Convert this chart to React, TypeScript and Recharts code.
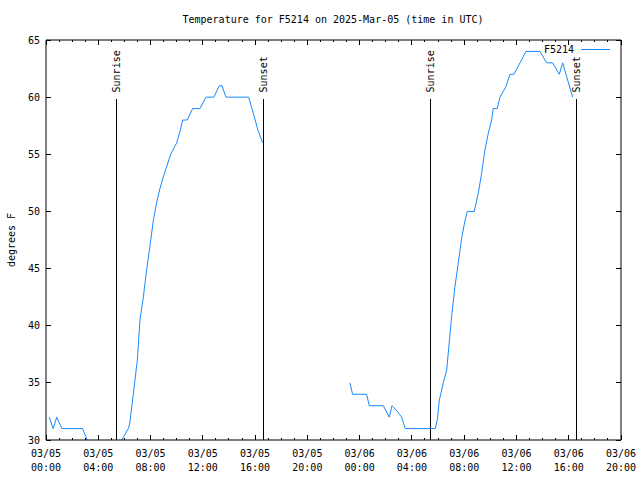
import React from 'react';
import { LineChart, Line, XAxis, YAxis, ReferenceLine, Customized } from 'recharts';

// hours since 03/05 00:00 UTC, and temperature in degrees F (null = no data)
const hours = [
  0.25, 0.55, 0.82, 1.22, 2.8, 3.15, 3.5, 5.5, 5.8, 6.3, 6.4, 6.68, 6.99, 7.19, 7.45, 7.7,
  7.96, 8.21, 8.47, 8.72, 8.97, 9.23, 9.54, 10.0, 10.25, 10.46, 10.81, 11.22, 11.78, 12.24,
  12.85, 13.26, 13.47, 13.77, 15.51, 15.86, 16.22, 16.58,
  20.0,
  23.26, 23.46, 24.53, 24.74, 25.81, 26.27, 26.47, 26.83, 27.21, 27.49, 29.79, 29.94, 30.1,
  30.4, 30.66, 31.04, 31.29, 31.55, 31.8, 32.06, 32.24, 32.77, 33.08, 33.33, 33.59, 33.84,
  34.1, 34.22, 34.53, 34.74, 35.19, 35.5, 35.8, 36.27, 36.73, 37.8, 38.31, 38.77, 39.28,
  39.54, 39.84, 40.3,
];
const tempF: (number | null)[] = [
  32, 31, 32, 31, 31, 30, 29.5, 29.5, 30, 31, 31.4, 34, 37, 40.5, 42.5, 44.9,
  47, 49.2, 50.8, 52, 53, 53.9, 55, 56, 57, 58, 58, 59, 59, 60,
  60, 61, 61, 60, 60, 58.6, 57.1, 56,
  null,
  35, 34, 34, 33, 33, 32, 33, 32.6, 32, 31, 31, 31.75, 33.5,
  35, 36.1, 40.8, 43.4, 45.5, 47.6, 49.2, 50, 50, 51.6, 53.3, 55.4, 56.8,
  58, 59, 59, 60, 60.9, 62, 62, 63, 64, 64, 63, 63, 62,
  63, 61.8, 60,
];

const majorTicks = [0, 4, 8, 12, 16, 20, 24, 28, 32, 36, 40, 44];
const tickDates = ['03/05', '03/05', '03/05', '03/05', '03/05', '03/05', '03/06', '03/06', '03/06', '03/06', '03/06', '03/06'];
const tickTimes = ['00:00', '04:00', '08:00', '12:00', '16:00', '20:00', '00:00', '04:00', '08:00', '12:00', '16:00', '20:00'];
const hourTicks = Array.from({ length: 45 }, (_, i) => i);
const yTicks = [30, 35, 40, 45, 50, 55, 60, 65];

const sunHours = [5.36, 16.63, 29.4, 40.63];
const sunLabels = ['Sunrise', 'Sunset', 'Sunrise', 'Sunset'];

const data = hours.map((h, i) => ({ h, t: tempF[i] }));

const FONT = '"DejaVu Sans Mono", monospace';
const BLUE = '#1a88ff';

const BottomTick = (props: any) => {
  const { x, y, payload } = props;
  const idx = majorTicks.indexOf(payload.value);
  const major = idx >= 0;
  return (
    <g>
      <line x1={x} x2={x} y1={y} y2={y - (major ? 5 : 2)} stroke="#000" shapeRendering="crispEdges" />
      {major && (
        <g fontFamily={FONT} fontSize={10} fill="#000" textAnchor="middle">
          <text x={x} y={y + 13} dominantBaseline="central">{tickDates[idx]}</text>
          <text x={x} y={y + 27} dominantBaseline="central">{tickTimes[idx]}</text>
        </g>
      )}
    </g>
  );
};

const TopTick = (props: any) => {
  const { x, y, payload } = props;
  const major = majorTicks.indexOf(payload.value) >= 0;
  return <line x1={x} x2={x} y1={y} y2={y + (major ? 5 : 2)} stroke="#000" shapeRendering="crispEdges" />;
};

const LeftTick = (props: any) => {
  const { x, y, payload } = props;
  return (
    <g>
      <line x1={x} x2={x + 5} y1={y} y2={y} stroke="#000" shapeRendering="crispEdges" />
      <text x={x - 6} y={y} textAnchor="end" dominantBaseline="central" fontFamily={FONT} fontSize={10} fill="#000">
        {payload.value}
      </text>
    </g>
  );
};

const RightTick = (props: any) => {
  const { x, y } = props;
  return <line x1={x} x2={x - 5} y1={y} y2={y} stroke="#000" shapeRendering="crispEdges" />;
};

const SunLabel = (props: any) => {
  const { viewBox, text } = props;
  const x = viewBox.x;
  const y = viewBox.y - 7;
  return (
    <text x={x} y={y} transform={`rotate(-90 ${x} ${y})`} textAnchor="start" dominantBaseline="central"
      fontFamily={FONT} fontSize={10} fill="#000">
      {text}
    </text>
  );
};

const Decorations = () => (
  <g fontFamily={FONT} fontSize={10} fill="#000">
    <text x={333} y={19} textAnchor="middle" dominantBaseline="central">
      Temperature for F5214 on 2025-Mar-05 (time in UTC)
    </text>
    <text x={11} y={240} textAnchor="middle" dominantBaseline="central" transform="rotate(-90 11 240)">
      degrees F
    </text>
    <text x={574} y={49} textAnchor="end" dominantBaseline="central">F5214</text>
    <line x1={581} x2={610} y1={49} y2={49} stroke={BLUE} shapeRendering="crispEdges" />
  </g>
);

export default function App() {
  return (
    <div style={{ position: 'absolute', left: 0, top: 0, width: 640, height: 480, background: '#fff' }}>
      <LineChart width={640} height={480} data={data} margin={{ top: 39, right: 18, left: 0, bottom: 0 }}>
        <XAxis
          dataKey="h" type="number" domain={[0, 44]} ticks={hourTicks} interval={0}
          allowDataOverflow height={40} tickSize={0} tickMargin={0} tickLine={false}
          axisLine={{ stroke: '#000' }} tick={<BottomTick />}
        />
        <XAxis
          xAxisId="top" orientation="top" dataKey="h" type="number" domain={[0, 44]} ticks={hourTicks}
          interval={0} allowDataOverflow height={1} tickSize={0} tickMargin={0} tickLine={false}
          axisLine={{ stroke: '#000' }} tick={<TopTick />}
        />
        <YAxis
          type="number" domain={[30, 65]} ticks={yTicks} interval={0} allowDataOverflow width={46}
          tickSize={0} tickMargin={0} tickLine={false} axisLine={{ stroke: '#000' }} tick={<LeftTick />}
        />
        <YAxis
          yAxisId="right" orientation="right" type="number" domain={[30, 65]} ticks={yTicks} interval={0}
          allowDataOverflow width={1} tickSize={0} tickMargin={0} tickLine={false}
          axisLine={{ stroke: '#000' }} tick={<RightTick />}
        />
        {sunHours.map((h, i) => (
          <ReferenceLine
            key={i}
            segment={[{ x: h, y: 30 }, { x: h, y: 59.8 }]}
            stroke="#000"
            shapeRendering="crispEdges"
            label={<SunLabel text={sunLabels[i]} />}
          />
        ))}
        <Line
          type="linear" dataKey="t" stroke={BLUE} strokeWidth={1} dot={false} activeDot={false}
          isAnimationActive={false} connectNulls={false}
        />
        <Customized component={Decorations} />
      </LineChart>
    </div>
  );
}
